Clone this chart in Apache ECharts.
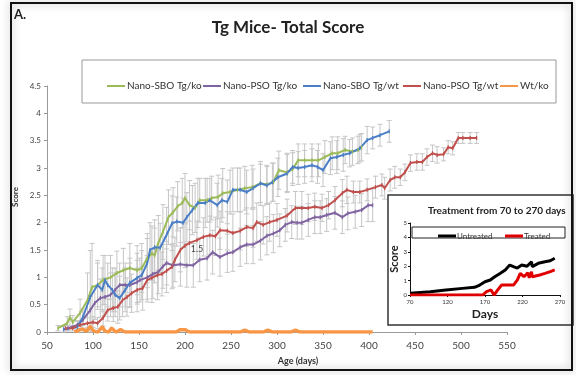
<!DOCTYPE html>
<html><head><meta charset="utf-8">
<script src="https://cdn.jsdelivr.net/npm/echarts@6/dist/echarts.min.js"></script>
<style>html,body{margin:0;padding:0;background:#fff}#c{width:576px;height:375px}</style>
</head><body><div id="c"></div>
<script>
// ---------- main chart data ----------
const sboKoDays  = [62,72,75,78,86,94,99,105,111,119,126,133,140,148,153,159,164,167,171,176,182,187,192,197,200,205,211,216,224,229,236,241,249,257,265,273,282,289,296,302,311,317,323,330,338,345,352,360,366,374,382,388,392];
const sboKoScore = [0.07,0.16,0.27,0.18,0.35,0.58,0.82,0.86,0.95,1.0,1.08,1.13,1.17,1.13,1.17,1.35,1.44,1.40,1.63,1.83,2.1,2.19,2.3,2.36,2.45,2.32,2.27,2.41,2.41,2.45,2.47,2.54,2.56,2.6,2.63,2.65,2.72,2.7,2.74,2.96,2.92,2.98,3.14,3.14,3.14,3.14,3.2,3.27,3.27,3.33,3.3,3.33,3.38];
const sboKoErr   = [0.05,0.12,0.15,0.12,0.25,0.5,0.8,0.45,0.45,0.4,0.4,0.4,0.45,0.45,0.45,0.45,0.5,0.5,0.5,0.5,0.5,0.45,0.45,0.45,0.45,0.45,0.45,0.4,0.4,0.4,0.4,0.45,0.4,0.4,0.4,0.4,0.4,0.35,0.35,0.35,0.35,0.3,0.3,0.3,0.3,0.3,0.3,0.3,0.3,0.25,0.25,0.25,0.25];

const psoKoDays  = [73,83,89,97,102,108,113,119,124,129,135,140,148,151,159,165,171,176,180,187,195,202,209,216,224,230,238,246,252,260,267,274,282,289,296,303,309,316,322,327,334,341,347,354,363,371,377,385,392,399,404];
const psoKoScore = [0.07,0.13,0.22,0.40,0.53,0.62,0.64,0.68,0.77,0.86,0.86,0.86,0.91,0.95,1.0,1.06,1.1,1.2,1.26,1.22,1.24,1.22,1.22,1.32,1.35,1.46,1.37,1.44,1.46,1.55,1.6,1.6,1.67,1.76,1.8,1.86,1.96,2.01,2.0,2.0,2.05,2.1,2.1,2.14,2.18,2.1,2.17,2.2,2.23,2.32,2.32];
const psoKoErr   = [0.05,0.08,0.15,0.25,0.3,0.35,0.35,0.4,0.4,0.4,0.4,0.4,0.4,0.4,0.4,0.45,0.4,0.4,0.4,0.4,0.4,0.4,0.4,0.4,0.4,0.4,0.35,0.35,0.35,0.35,0.35,0.35,0.35,0.35,0.35,0.3,0.3,0.3,0.3,0.3,0.3,0.3,0.3,0.3,0.3,0.3,0.3,0.3,0.3,0.3,0.3];

const sboWtDays  = [68,83,89,97,105,110,113,116,121,124,129,135,140,148,153,159,162,167,173,180,186,191,198,202,208,214,222,227,235,240,246,252,260,267,274,282,289,295,301,311,317,323,330,338,344,350,358,365,372,379,390,398,404,412,422];
const sboWtScore = [0.05,0.09,0.27,0.64,0.86,0.77,0.95,0.86,0.77,0.68,0.62,0.77,0.90,0.99,1.04,1.26,1.50,1.55,1.54,1.78,1.99,2.02,2.0,2.1,2.23,2.36,2.36,2.41,2.32,2.41,2.38,2.6,2.6,2.56,2.63,2.72,2.68,2.74,2.83,2.9,3.02,3.0,3.02,3.05,3.02,2.96,3.18,3.2,3.24,3.27,3.36,3.51,3.55,3.6,3.67];
const sboWtErr   = [0.05,0.1,0.15,0.85,0.4,0.4,0.45,0.4,0.4,0.4,0.4,0.4,0.45,0.45,0.45,0.45,0.5,0.5,0.45,0.5,0.5,0.45,0.45,0.45,0.45,0.45,0.45,0.4,0.4,0.4,0.4,0.4,0.4,0.4,0.35,0.35,0.35,0.35,0.35,0.35,0.3,0.3,0.3,0.3,0.3,0.3,0.3,0.3,0.3,0.25,0.25,0.25,0.2,0.2,0.2];

const psoWtDays  = [70,78,86,94,100,105,111,116,122,127,132,137,142,148,154,159,164,170,175,180,186,189,195,200,205,213,220,227,233,238,246,252,260,267,274,278,285,292,300,311,320,327,334,341,349,356,363,371,376,383,390,398,407,414,417,423,428,434,439,445,452,458,463,469,474,481,486,491,497,502,510,517];
const psoWtScore = [0.07,0.07,0.13,0.16,0.18,0.16,0.26,0.40,0.44,0.46,0.58,0.64,0.71,0.77,0.8,0.95,0.99,1.04,1.06,1.12,1.19,1.32,1.5,1.58,1.63,1.68,1.74,1.77,1.75,1.86,1.85,1.81,1.85,1.92,1.9,2.01,1.96,2.01,2.05,2.13,2.27,2.27,2.27,2.29,2.27,2.32,2.41,2.54,2.6,2.56,2.56,2.6,2.65,2.69,2.63,2.78,2.83,2.83,2.92,3.09,3.11,3.11,3.2,3.27,3.24,3.25,3.38,3.36,3.55,3.55,3.55,3.55];
const psoWtErr   = [0.05,0.05,0.08,0.1,0.1,0.1,0.15,0.2,0.25,0.3,0.3,0.35,0.35,0.4,0.4,0.4,0.45,0.45,0.4,0.4,0.4,0.4,0.4,0.4,0.4,0.35,0.35,0.35,0.35,0.35,0.35,0.35,0.35,0.35,0.35,0.35,0.35,0.35,0.3,0.3,0.3,0.3,0.25,0.25,0.25,0.25,0.25,0.25,0.25,0.2,0.2,0.2,0.2,0.2,0.2,0.2,0.2,0.15,0.15,0.15,0.15,0.15,0.15,0.15,0.15,0.12,0.12,0.12,0.1,0.1,0.1,0.1];
const psoWtNote  = {day: 213, text: '1.5'};

const wtKoDays   = [80,88,93,97,100,105,110,113,117,120,125,130,135,140,190,195,200,205,260,265,270,285,290,295,315,320,325,404];
const wtKoScore  = [0,0.05,0.02,0.1,0.03,0,0.09,0.02,0,0.07,0,0.04,0,0,0,0.04,0.04,0,0,0.03,0,0,0.03,0,0,0.03,0,0];

// ---------- inset data ----------
const untreatedDays  = [70,97,118,140,156,163,170,177,183,190,197,203,208,213,219,226,232,233,241,250,257,263];
const untreatedScore = [0.12,0.23,0.35,0.46,0.53,0.69,0.92,1.04,1.27,1.5,1.74,2.08,1.97,1.87,2.08,2.0,2.31,1.97,2.2,2.31,2.38,2.55];
const treatedDays    = [70,167,172,178,182,187,192,208,213,217,222,227,229,232,233,243,250,257,263];
const treatedScore   = [0,0,0.23,0.35,0,0.35,0.69,0.69,1.04,1.5,1.27,1.55,1.2,1.62,1.27,1.39,1.5,1.62,1.74];

const seriesNames = ['Nano-SBO Tg/ko','Nano-PSO Tg/ko','Nano-SBO Tg/wt','Nano-PSO Tg/wt','Wt/ko'];
const insetNames  = ['Untreated','Treated'];

// ---------- build ----------
const FONT = 'Lato';
const zip = (a, b) => a.map((d, i) => [d, b[i]]);
const bars = (a, b, e) => a.map((d, i) => [d, b[i] - e[i], b[i] + e[i]]);

function renderErr(params, api) {
  const x = api.value(0);
  const lo = Math.max(api.value(1), 0), hi = api.value(2);
  const p1 = api.coord([x, lo]), p2 = api.coord([x, hi]);
  const st = {stroke: '#c6c6c6', lineWidth: 1};
  return {type: 'group', children: [
    {type: 'line', shape: {x1: p1[0], y1: p1[1], x2: p2[0], y2: p2[1]}, style: st},
    {type: 'line', shape: {x1: p2[0] - 2.5, y1: p2[1], x2: p2[0] + 2.5, y2: p2[1]}, style: st},
    {type: 'line', shape: {x1: p1[0] - 2.5, y1: p1[1], x2: p1[0] + 2.5, y2: p1[1]}, style: st}
  ]};
}
function errSeries(d, s, e) {
  return {type: 'custom', xAxisIndex: 0, yAxisIndex: 0, renderItem: renderErr, data: bars(d, s, e), z: 1, silent: true};
}
function lineSeries(name, color, d, s, extra) {
  return Object.assign({
    type: 'line', name: name, xAxisIndex: 0, yAxisIndex: 0, data: zip(d, s),
    color: color, lineStyle: {width: 2, color: color},
    symbol: 'rect', symbolSize: [1.2, 4], itemStyle: {color: color},
    z: 2, animation: false
  }, extra || {});
}
const colors = ['#9BBB59', '#8064A2', '#4A7EC6', '#C0504D', '#F79646'];

const psoWtData = zip(psoWtDays, psoWtScore).map(p => p[0] === psoWtNote.day ?
  {value: p, label: {show: true, formatter: psoWtNote.text, position: 'bottom', distance: 2, fontSize: 9, color: '#444', fontFamily: FONT}} : p);

const legends = seriesNames.map((n, i) => ({
  data: [n], left: [102, 198, 298, 398, 495][i], top: 76, icon: 'rect', itemWidth: 18, itemHeight: 2, itemGap: 4,
  textStyle: {fontSize: 10, color: '#333', fontFamily: FONT, padding: [0, 0, 0, -3]}, z: 6
}));
legends.push({data: [insetNames[0]], left: 433, top: 227, icon: 'rect', itemWidth: 18, itemHeight: 3,
  textStyle: {fontSize: 8, color: '#333', fontFamily: FONT, padding: [0, 0, 0, -4]}, z: 15});
legends.push({data: [insetNames[1]], left: 500, top: 227, icon: 'rect', itemWidth: 18, itemHeight: 3,
  textStyle: {fontSize: 8, color: '#333', fontFamily: FONT, padding: [0, 0, 0, -4]}, z: 15});

const option = {
  backgroundColor: '#fff',
  animation: false,
  textStyle: {fontFamily: FONT},
  title: [
    {text: 'Tg Mice- Total Score', left: 'center', top: 14, textStyle: {fontSize: 17, fontWeight: 'bold', color: '#222', fontFamily: FONT}},
    {text: 'Treatment from 70 to 270 days', left: 423, top: 201, textStyle: {fontSize: 10, fontWeight: 'bold', color: '#222', fontFamily: FONT}, z: 15}
  ],
  legend: legends,
  grid: [
    {left: 47, right: 69, top: 86, bottom: 43},
    {left: 410, top: 223, width: 150, height: 72, z: 12}
  ],
  xAxis: [
    {type: 'value', min: 50, max: 550, interval: 50, gridIndex: 0,
      axisLine: {lineStyle: {color: '#999'}}, axisTick: {length: 3, lineStyle: {color: '#999'}},
      axisLabel: {fontSize: 10, color: '#444', margin: 9, fontFamily: FONT}, splitLine: {show: false},
      name: 'Age (days)', nameLocation: 'middle', nameGap: 25,
      nameTextStyle: {fontSize: 9, fontWeight: 'bold', color: '#333', padding: [0, 0, 0, 42], fontFamily: FONT}},
    {type: 'value', min: 70, max: 270, interval: 50, gridIndex: 1, z: 13,
      axisLine: {onZero: false, lineStyle: {color: '#111'}}, axisTick: {length: 2, lineStyle: {color: '#111'}},
      axisLabel: {fontSize: 6, color: '#333', margin: 4, fontFamily: FONT}, splitLine: {show: false},
      name: 'Days', nameLocation: 'middle', nameGap: 13,
      nameTextStyle: {fontSize: 12, fontWeight: 'bold', color: '#222', fontFamily: FONT}}
  ],
  yAxis: [
    {type: 'value', min: 0, max: 4.5, interval: 0.5, gridIndex: 0,
      axisLine: {show: true, lineStyle: {color: '#999'}}, axisTick: {show: true, length: 3, lineStyle: {color: '#999'}},
      axisLabel: {fontSize: 8, color: '#444', margin: 6, fontFamily: FONT}, splitLine: {show: false},
      name: 'Score', nameLocation: 'middle', nameGap: 24,
      nameTextStyle: {fontSize: 8, fontWeight: 'bold', color: '#333', padding: [0, 0, 0, 24], fontFamily: FONT}},
    {type: 'value', min: 0, max: 5, interval: 1, gridIndex: 1, z: 13,
      axisLine: {show: true, lineStyle: {color: '#111'}}, axisTick: {show: true, length: 2, lineStyle: {color: '#111'}},
      axisLabel: {fontSize: 6, color: '#333', margin: 3, fontFamily: FONT}, splitLine: {show: false},
      name: 'Score', nameLocation: 'middle', nameGap: 8,
      nameTextStyle: {fontSize: 11, fontWeight: 'bold', color: '#222', fontFamily: FONT}}
  ],
  graphic: [
    {type: 'rect', shape: {x: 11, y: 3, width: 561, height: 367}, style: {fill: 'none', stroke: '#111', lineWidth: 2, shadowBlur: 8, shadowColor: 'rgba(0,0,0,0.35)'}, z: 50, silent: true},
    {type: 'text', style: {x: 14, y: 8, text: 'A.', font: 'bold 13px Lato', fill: '#222'}, z: 50},
    {type: 'rect', shape: {x: 82, y: 60, width: 474, height: 43}, style: {fill: '#fff', stroke: '#999', lineWidth: 1}, z: 5, silent: true},
    {type: 'rect', shape: {x: 388, y: 195, width: 185, height: 130}, style: {fill: '#fff', stroke: '#333', lineWidth: 1.5}, z: 10, silent: true},
    {type: 'rect', shape: {x: 412, y: 227, width: 153, height: 11}, style: {fill: '#fff', stroke: '#222', lineWidth: 1}, z: 14, silent: true}
  ],
  series: [
    errSeries(sboKoDays, sboKoScore, sboKoErr),
    errSeries(psoKoDays, psoKoScore, psoKoErr),
    errSeries(sboWtDays, sboWtScore, sboWtErr),
    errSeries(psoWtDays, psoWtScore, psoWtErr),
    lineSeries(seriesNames[0], colors[0], sboKoDays, sboKoScore),
    lineSeries(seriesNames[1], colors[1], psoKoDays, psoKoScore),
    lineSeries(seriesNames[2], colors[2], sboWtDays, sboWtScore),
    lineSeries(seriesNames[3], colors[3], psoWtDays, psoWtScore, {data: psoWtData}),
    lineSeries(seriesNames[4], colors[4], wtKoDays, wtKoScore, {lineStyle: {width: 3.5, color: colors[4]}, symbol: 'none', smooth: 0.3}),
    {type: 'line', name: insetNames[0], xAxisIndex: 1, yAxisIndex: 1, data: zip(untreatedDays, untreatedScore),
      color: '#000', lineStyle: {width: 3, color: '#000'}, symbol: 'none', z: 14},
    {type: 'line', name: insetNames[1], xAxisIndex: 1, yAxisIndex: 1, data: zip(treatedDays, treatedScore),
      color: '#e00000', lineStyle: {width: 3, color: '#e00000'}, symbol: 'none', z: 14}
  ]
};
const chart = echarts.init(document.getElementById('c'), null, {renderer: 'canvas'});
chart.setOption(option);
</script>
</body></html>
